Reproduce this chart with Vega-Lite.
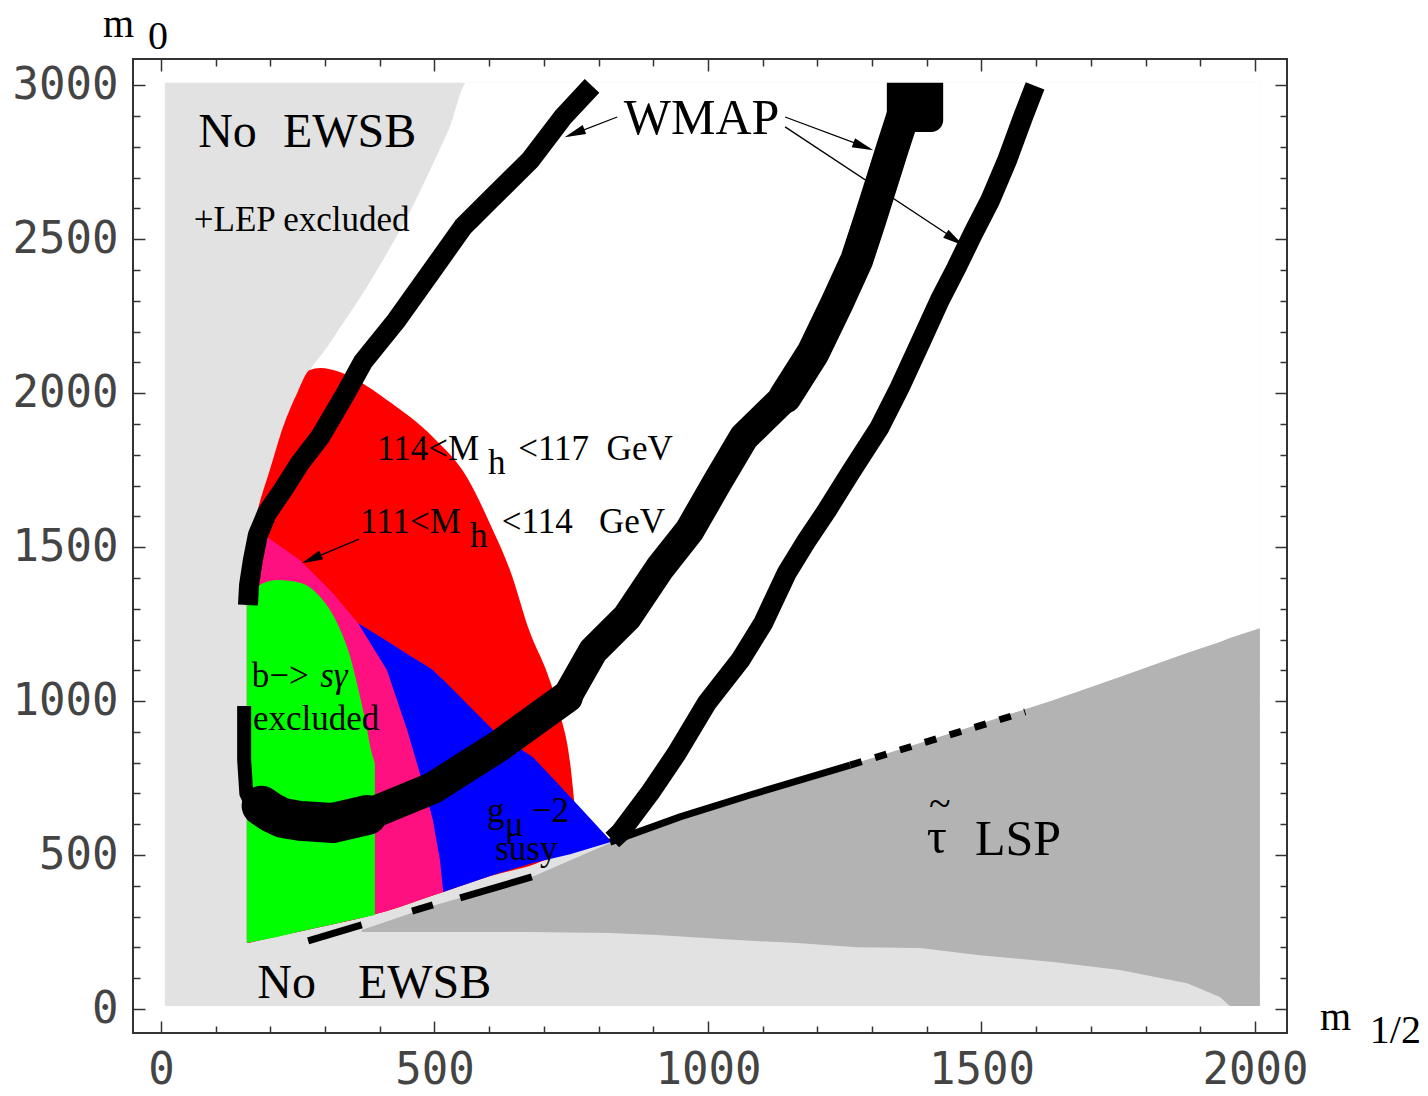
{
 "$schema": "https://vega.github.io/schema/vega-lite/v6.json",
 "width": 1154, "height": 974,
 "autosize": {"type": "none"},
 "padding": {"left": 133, "top": 59, "right": 141, "bottom": 63},
 "background": "white",
 "config": {"view": {"stroke": "#333", "strokeWidth": 2}, "text": {"font": "Liberation Serif"}},
 "datasets": {
  "greyRect": [{"m12": 7, "m12end": 2009, "m0": 10, "m0end": 3008}],
  "white": [
   {"m12":157,"m0":214,"hi":1458},{"m12":163,"m0":216,"hi":1507},{"m12":177,"m0":222,"hi":1621},{"m12":199,"m0":231,"hi":1751},
   {"m12":223,"m0":240,"hi":1890},{"m12":249,"m0":250,"hi":2001},{"m12":272,"m0":259,"hi":2075},{"m12":296,"m0":268,"hi":2131},
   {"m12":333,"m0":282,"hi":2228},{"m12":369,"m0":296,"hi":2325},{"m12":406,"m0":314,"hi":2433},{"m12":450,"m0":340,"hi":2572},
   {"m12":492,"m0":365,"hi":2725},{"m12":528,"m0":387,"hi":2865},{"m12":559,"m0":406,"hi":3008},{"m12":633,"m0":451,"hi":3008},
   {"m12":753,"m0":507,"hi":3008},{"m12":821,"m0":542,"hi":3008},{"m12":907,"m0":588,"hi":3008},{"m12":1053,"m0":672,"hi":3008},
   {"m12":1163,"m0":737,"hi":3008},{"m12":1272,"m0":799,"hi":3008},{"m12":1388,"m0":864,"hi":3008},{"m12":1497,"m0":926,"hi":3008},
   {"m12":1631,"m0":1003,"hi":3008},{"m12":1753,"m0":1078,"hi":3008},{"m12":1876,"m0":1156,"hi":3008},{"m12":1936,"m0":1192,"hi":3008},
   {"m12":2009,"m0":1237,"hi":3008}
  ],
  "darkgrey": [
   {"m12":367,"m0":250,"hi":257},{"m12":497,"m0":250,"hi":335},{"m12":656,"m0":250,"hi":416},{"m12":678,"m0":250,"hi":429},
   {"m12":821,"m0":247,"hi":539},{"m12":907,"m0":240,"hi":588},{"m12":1053,"m0":224,"hi":672},{"m12":1163,"m0":214,"hi":737},
   {"m12":1272,"m0":201,"hi":799},{"m12":1388,"m0":198,"hi":864},{"m12":1497,"m0":175,"hi":926},{"m12":1631,"m0":153,"hi":1003},
   {"m12":1753,"m0":127,"hi":1078},{"m12":1876,"m0":84,"hi":1156},{"m12":1936,"m0":39,"hi":1192},{"m12":1954,"m0":10,"hi":1205},
   {"m12":2009,"m0":10,"hi":1237}
  ],
  "red": [
   {"m12":157,"m0":214,"hi":1458},{"m12":163,"m0":216,"hi":1507},{"m12":177,"m0":222,"hi":1621},{"m12":199,"m0":231,"hi":1751},
   {"m12":223,"m0":240,"hi":1890},{"m12":249,"m0":250,"hi":2001},{"m12":272,"m0":259,"hi":2075},{"m12":291,"m0":266,"hi":2082},
   {"m12":327,"m0":280,"hi":2069},{"m12":358,"m0":292,"hi":2043},{"m12":413,"m0":318,"hi":1978},{"m12":497,"m0":369,"hi":1858},
   {"m12":559,"m0":406,"hi":1728},{"m12":601,"m0":431,"hi":1578},{"m12":638,"m0":448,"hi":1426},{"m12":675,"m0":465,"hi":1221},
   {"m12":706,"m0":486,"hi":1091},{"m12":729,"m0":497,"hi":961},{"m12":748,"m0":505,"hi":799},{"m12":757,"m0":509,"hi":646}
  ],
  "pink": [
   {"m12":157,"m0":214,"hi":1458},{"m12":163,"m0":216,"hi":1507},{"m12":194,"m0":229,"hi":1533},{"m12":254,"m0":252,"hi":1458},
   {"m12":314,"m0":275,"hi":1351},{"m12":360,"m0":293,"hi":1254},{"m12":413,"m0":318,"hi":1195},{"m12":450,"m0":340,"hi":1153},
   {"m12":486,"m0":362,"hi":1114},{"m12":497,"m0":369,"hi":1101},{"m12":510,"m0":376,"hi":1078},{"m12":516,"m0":380,"hi":1069}
  ],
  "blue": [
   {"m12":360,"m0":1254,"hi":1254},{"m12":413,"m0":1101,"hi":1195},{"m12":450,"m0":906,"hi":1153},{"m12":486,"m0":689,"hi":1114},
   {"m12":497,"m0":614,"hi":1101},{"m12":510,"m0":484,"hi":1078},{"m12":516,"m0":380,"hi":1069},{"m12":607,"m0":435,"hi":906},
   {"m12":680,"m0":474,"hi":818},{"m12":748,"m0":503,"hi":689},{"m12":821,"m0":542,"hi":549}
  ],
  "green": [
   {"m12":157,"m0":214,"hi":1328},{"m12":175,"m0":221,"hi":1371},{"m12":212,"m0":234,"hi":1393},{"m12":254,"m0":252,"hi":1384},
   {"m12":291,"m0":266,"hi":1338},{"m12":322,"m0":278,"hi":1254},{"m12":346,"m0":288,"hi":1143},{"m12":364,"m0":295,"hi":1013},
   {"m12":377,"m0":300,"hi":906},{"m12":382,"m0":302,"hi":857},{"m12":391,"m0":305,"hi":799}
  ],
  "bands": [
   {"seg":"b1","m12":159,"m0":1312},{"seg":"b1","m12":161,"m0":1377},{"seg":"b1","m12":168,"m0":1458},{"seg":"b1","m12":177,"m0":1539},
   {"seg":"b1","m12":194,"m0":1611},{"seg":"b1","m12":223,"m0":1686},{"seg":"b1","m12":254,"m0":1773},{"seg":"b1","m12":291,"m0":1858},
   {"seg":"b1","m12":336,"m0":1994},{"seg":"b1","m12":369,"m0":2101},{"seg":"b1","m12":431,"m0":2238},{"seg":"b1","m12":492,"m0":2390},
   {"seg":"b1","m12":552,"m0":2540},{"seg":"b1","m12":601,"m0":2627},{"seg":"b1","m12":675,"m0":2757},{"seg":"b1","m12":735,"m0":2897},
   {"seg":"b1","m12":788,"m0":2998},
   {"seg":"b2a","m12":152,"m0":984},{"seg":"b2a","m12":152,"m0":809},{"seg":"b2a","m12":156,"m0":700},{"seg":"b2a","m12":168,"m0":655},
   {"seg":"b2b1","m12":184,"m0":660},{"seg":"b2b1","m12":200,"m0":640},{"seg":"b2b1","m12":223,"m0":620},{"seg":"b2b1","m12":254,"m0":611},
   {"seg":"b2b1","m12":314,"m0":604},{"seg":"b2b1","m12":377,"m0":630},
   {"seg":"b2b2","m12":377,"m0":630},{"seg":"b2b2","m12":497,"m0":718},{"seg":"b2b2","m12":620,"m0":857},{"seg":"b2b2","m12":742,"m0":1013},
   {"seg":"b2c","m12":742,"m0":1013},{"seg":"b2c","m12":790,"m0":1163},{"seg":"b2c","m12":852,"m0":1273},{"seg":"b2c","m12":912,"m0":1432},
   {"seg":"b2c","m12":967,"m0":1556},{"seg":"b2c","m12":1016,"m0":1708},{"seg":"b2c","m12":1066,"m0":1858},{"seg":"b2c","m12":1141,"m0":1988},
   {"seg":"b2d","m12":1141,"m0":1988},{"seg":"b2d","m12":1192,"m0":2131},{"seg":"b2d","m12":1236,"m0":2293},{"seg":"b2d","m12":1272,"m0":2433},
   {"seg":"b2d","m12":1296,"m0":2563},{"seg":"b2d","m12":1315,"m0":2670},{"seg":"b2d","m12":1338,"m0":2800},{"seg":"b2d","m12":1360,"m0":2920},
   {"seg":"b3","m12":825,"m0":549},{"seg":"b3","m12":839,"m0":572},{"seg":"b3","m12":894,"m0":702},{"seg":"b3","m12":943,"m0":831},
   {"seg":"b3","m12":998,"m0":994},{"seg":"b3","m12":1059,"m0":1133},{"seg":"b3","m12":1101,"m0":1254},{"seg":"b3","m12":1144,"m0":1416},
   {"seg":"b3","m12":1181,"m0":1523},{"seg":"b3","m12":1218,"m0":1621},{"seg":"b3","m12":1260,"m0":1741},{"seg":"b3","m12":1314,"m0":1890},
   {"seg":"b3","m12":1351,"m0":2020},{"seg":"b3","m12":1388,"m0":2163},{"seg":"b3","m12":1424,"m0":2303},{"seg":"b3","m12":1455,"m0":2410},
   {"seg":"b3","m12":1485,"m0":2520},{"seg":"b3","m12":1516,"m0":2627},{"seg":"b3","m12":1547,"m0":2757},{"seg":"b3","m12":1576,"m0":2897},
   {"seg":"b3","m12":1598,"m0":2998}
  ],
  "blob": [{"m12": 1327, "m12end": 1430, "m0": 2848, "m0end": 3008}],
  "coann": [
   {"seg":"c1","m12":269,"m0":221},{"seg":"c1","m12":367,"m0":273},
   {"seg":"c2","m12":459,"m0":318},{"seg":"c2","m12":497,"m0":338},
   {"seg":"c3","m12":547,"m0":361},{"seg":"c3","m12":678,"m0":429},
   {"seg":"cm","m12":821,"m0":542},{"seg":"cm","m12":949,"m0":624},{"seg":"cm","m12":1077,"m0":695},{"seg":"cm","m12":1260,"m0":792}
  ],
  "coannDash": [{"m12":1260,"m0":792},{"m12":1580,"m0":965}],
  "arrows": [
   {"a":"a1","m12":834,"m0":2897},{"a":"a1","m12":745,"m0":2836},
   {"a":"a2","m12":1141,"m0":2897},{"a":"a2","m12":1295,"m0":2795},
   {"a":"a3","m12":1141,"m0":2865},{"a":"a3","m12":1460,"m0":2490},
   {"a":"a4","m12":362,"m0":1526},{"a":"a4","m12":264,"m0":1453}
  ],
  "head1": [{"m12":756,"m0":2844}],
  "head2": [{"m12":1284,"m0":2801}],
  "head3": [{"m12":1451,"m0":2499}],
  "head4": [{"m12":275,"m0":1461}],
  "bigText": [
   {"t":"No","m12":68,"m0":2800},{"t":"EWSB","m12":223,"m0":2800},
   {"t":"No","m12":176,"m0":36},{"t":"EWSB","m12":360,"m0":36}
  ],
  "wmapText": [{"t":"WMAP","m12":846,"m0":2842}],
  "lspText": [{"t":"τ","m12":1400,"m0":507},{"t":"LSP","m12":1488,"m0":500}],
  "tildeText": [{"t":"~","m12":1424,"m0":622}],
  "midText": [
   {"t":"+LEP excluded","m12":60,"m0":2527},
   {"t":"114<M","m12":395,"m0":1783},{"t":"h","m12":598,"m0":1738},{"t":"<117\u00a0\u00a0GeV","m12":653,"m0":1783},
   {"t":"111<M","m12":364,"m0":1546},{"t":"h","m12":565,"m0":1500},{"t":"<114\u00a0\u00a0\u00a0GeV","m12":623,"m0":1546},
   {"t":"b−>","m12":166,"m0":1046},{"t":"excluded","m12":168,"m0":906},
   {"t":"g","m12":596,"m0":607},{"t":"μ","m12":629,"m0":562},{"t":"−2","m12":678,"m0":607},{"t":"susy","m12":611,"m0":484}
  ],
  "italicText": [{"t":"sγ","m12":291,"m0":1046}],
  "axisText": [
   {"t":"m","m12":-106,"m0":3158},{"t":"0","m12":-24,"m0":3118},
   {"t":"m","m12":2119,"m0":-68},{"t":"1/2","m12":2210,"m0":-110}
  ]
 },
 "encoding": {
  "x": {"field": "m12", "type": "quantitative", "scale": {"domain": [-51.2, 2058.6], "nice": false, "zero": false}, "axis": null},
  "y": {"field": "m0", "type": "quantitative", "scale": {"domain": [-77.9, 3085.4], "nice": false, "zero": false}, "axis": null}
 },
 "resolve": {"axis": {"x": "independent", "y": "independent"}},
 "layer": [
  {"data": {"name": "greyRect"}, "mark": {"type": "rect", "color": "#e2e2e2"},
   "encoding": {
    "x": {"field": "m12", "type": "quantitative", "scale": {"domain": [-51.2, 2058.6], "nice": false, "zero": false},
      "axis": {"orient": "bottom", "title": null, "values": [0,100,200,300,400,500,600,700,800,900,1000,1100,1200,1300,1400,1500,1600,1700,1800,1900,2000],
        "format": "d", "labelExpr": "datum.value % 500 === 0 ? datum.label : ''",
        "tickSize": {"condition": {"test": "datum.value % 500 === 0", "value": -12}, "value": -7},
        "tickColor": "#333", "tickWidth": 1.5, "domain": false, "grid": false,
        "labelFont": "DejaVu Sans Mono", "labelFontSize": 44, "labelColor": "#444", "labelPadding": 27,
        "labelFlush": false, "labelOverlap": false, "labelBound": false}},
    "x2": {"field": "m12end"},
    "y": {"field": "m0", "type": "quantitative", "scale": {"domain": [-77.9, 3085.4], "nice": false, "zero": false},
      "axis": {"orient": "left", "title": null, "values": [0,100,200,300,400,500,600,700,800,900,1000,1100,1200,1300,1400,1500,1600,1700,1800,1900,2000,2100,2200,2300,2400,2500,2600,2700,2800,2900,3000],
        "format": "d", "labelExpr": "datum.value % 500 === 0 ? datum.label : ''",
        "tickSize": {"condition": {"test": "datum.value % 500 === 0", "value": -12}, "value": -7},
        "tickColor": "#333", "tickWidth": 1.5, "domain": false, "grid": false,
        "labelFont": "DejaVu Sans Mono", "labelFontSize": 44, "labelColor": "#444", "labelPadding": 27,
        "labelFlush": false, "labelOverlap": false, "labelBound": false}},
    "y2": {"field": "m0end"}
   }},
  {"data": {"name": "white"}, "mark": {"type": "area", "color": "white", "interpolate": "monotone"},
   "encoding": {
    "x": {"field": "m12", "type": "quantitative", "scale": {"domain": [-51.2, 2058.6], "nice": false, "zero": false},
      "axis": {"orient": "top", "title": null, "values": [0,100,200,300,400,500,600,700,800,900,1000,1100,1200,1300,1400,1500,1600,1700,1800,1900,2000],
        "labels": false,
        "tickSize": {"condition": {"test": "datum.value % 500 === 0", "value": -12}, "value": -7},
        "tickColor": "#333", "tickWidth": 1.5, "domain": false, "grid": false}},
    "y": {"field": "m0", "type": "quantitative", "scale": {"domain": [-77.9, 3085.4], "nice": false, "zero": false},
      "axis": {"orient": "right", "title": null, "values": [0,100,200,300,400,500,600,700,800,900,1000,1100,1200,1300,1400,1500,1600,1700,1800,1900,2000,2100,2200,2300,2400,2500,2600,2700,2800,2900,3000],
        "labels": false,
        "tickSize": {"condition": {"test": "datum.value % 500 === 0", "value": -12}, "value": -7},
        "tickColor": "#333", "tickWidth": 1.5, "domain": false, "grid": false}},
    "y2": {"field": "hi"}
   }},
  {"data": {"name": "darkgrey"}, "mark": {"type": "area", "color": "#b3b3b3"}, "encoding": {"y2": {"field": "hi"}}},
  {"data": {"name": "red"}, "mark": {"type": "area", "color": "#ff0000", "interpolate": "monotone"}, "encoding": {"y2": {"field": "hi"}}},
  {"data": {"name": "pink"}, "mark": {"type": "area", "color": "#ff1080"}, "encoding": {"y2": {"field": "hi"}}},
  {"data": {"name": "blue"}, "mark": {"type": "area", "color": "#0000ff"}, "encoding": {"y2": {"field": "hi"}}},
  {"data": {"name": "green"}, "mark": {"type": "area", "color": "#00ff00", "interpolate": "monotone"}, "encoding": {"y2": {"field": "hi"}}},
  {"data": {"name": "bands"}, "transform": [{"filter": {"field": "seg", "oneOf": ["b1", "b3"]}}],
   "mark": {"type": "line", "color": "black", "strokeWidth": 20, "strokeJoin": "round"},
   "encoding": {"detail": {"field": "seg"}, "order": {"value": null}}},
  {"data": {"name": "bands"}, "transform": [{"filter": {"field": "seg", "equal": "b2a"}}],
   "mark": {"type": "line", "color": "black", "strokeWidth": 14, "strokeJoin": "round"},
   "encoding": {"order": {"value": null}}},
  {"data": {"name": "bands"}, "transform": [{"filter": {"field": "seg", "equal": "b2b1"}}],
   "mark": {"type": "line", "color": "black", "strokeWidth": 40, "strokeJoin": "round", "strokeCap": "round"},
   "encoding": {"order": {"value": null}}},
  {"data": {"name": "bands"}, "transform": [{"filter": {"field": "seg", "equal": "b2b2"}}],
   "mark": {"type": "line", "color": "black", "strokeWidth": 32, "strokeJoin": "round", "strokeCap": "round"},
   "encoding": {"order": {"value": null}}},
  {"data": {"name": "bands"}, "transform": [{"filter": {"field": "seg", "equal": "b2c"}}],
   "mark": {"type": "line", "color": "black", "strokeWidth": 30, "strokeJoin": "round", "strokeCap": "round"},
   "encoding": {"order": {"value": null}}},
  {"data": {"name": "bands"}, "transform": [{"filter": {"field": "seg", "equal": "b2d"}}],
   "mark": {"type": "line", "color": "black", "strokeWidth": 33, "strokeJoin": "round", "strokeCap": "round"},
   "encoding": {"order": {"value": null}}},
  {"data": {"name": "blob"}, "mark": {"type": "rect", "color": "black", "cornerRadiusBottomRight": 12},
   "encoding": {"x2": {"field": "m12end"}, "y2": {"field": "m0end"}}},
  {"data": {"name": "coann"}, "mark": {"type": "line", "color": "black", "strokeWidth": 7},
   "encoding": {"detail": {"field": "seg"}, "order": {"value": null}}},
  {"data": {"name": "coannDash"}, "mark": {"type": "line", "color": "black", "strokeWidth": 7, "strokeDash": [12, 14]},
   "encoding": {"order": {"value": null}}},
  {"data": {"name": "arrows"}, "mark": {"type": "line", "color": "black", "strokeWidth": 1.3},
   "encoding": {"detail": {"field": "a"}, "order": {"value": null}}},
  {"data": {"name": "head1"}, "mark": {"type": "point", "shape": "M -1 -0.45 L 1 0 L -1 0.45 Z", "filled": true, "color": "black", "opacity": 1, "size": 450, "angle": 159}},
  {"data": {"name": "head2"}, "mark": {"type": "point", "shape": "M -1 -0.45 L 1 0 L -1 0.45 Z", "filled": true, "color": "black", "opacity": 1, "size": 450, "angle": 20.6}},
  {"data": {"name": "head3"}, "mark": {"type": "point", "shape": "M -1 -0.45 L 1 0 L -1 0.45 Z", "filled": true, "color": "black", "opacity": 1, "size": 450, "angle": 33.5}},
  {"data": {"name": "head4"}, "mark": {"type": "point", "shape": "M -1 -0.45 L 1 0 L -1 0.45 Z", "filled": true, "color": "black", "opacity": 1, "size": 450, "angle": 157}},
  {"data": {"name": "bigText"}, "mark": {"type": "text", "font": "Liberation Serif", "fontSize": 48, "align": "left", "baseline": "alphabetic", "color": "black"},
   "encoding": {"text": {"field": "t"}}},
  {"data": {"name": "wmapText"}, "mark": {"type": "text", "font": "Liberation Serif", "fontSize": 50, "align": "left", "baseline": "alphabetic", "color": "black"},
   "encoding": {"text": {"field": "t"}}},
  {"data": {"name": "lspText"}, "mark": {"type": "text", "font": "Liberation Serif", "fontSize": 50, "align": "left", "baseline": "alphabetic", "color": "black"},
   "encoding": {"text": {"field": "t"}}},
  {"data": {"name": "tildeText"}, "mark": {"type": "text", "font": "Liberation Serif", "fontSize": 40, "align": "center", "baseline": "alphabetic", "color": "black"},
   "encoding": {"text": {"field": "t"}}},
  {"data": {"name": "midText"}, "mark": {"type": "text", "font": "Liberation Serif", "fontSize": 35, "align": "left", "baseline": "alphabetic", "color": "black"},
   "encoding": {"text": {"field": "t"}}},
  {"data": {"name": "italicText"}, "mark": {"type": "text", "font": "Liberation Serif", "fontSize": 35, "fontStyle": "italic", "align": "left", "baseline": "alphabetic", "color": "black"},
   "encoding": {"text": {"field": "t"}}},
  {"data": {"name": "axisText"}, "mark": {"type": "text", "font": "Liberation Serif", "fontSize": 40, "align": "left", "baseline": "alphabetic", "color": "black"},
   "encoding": {"text": {"field": "t"}}}
 ]
}
